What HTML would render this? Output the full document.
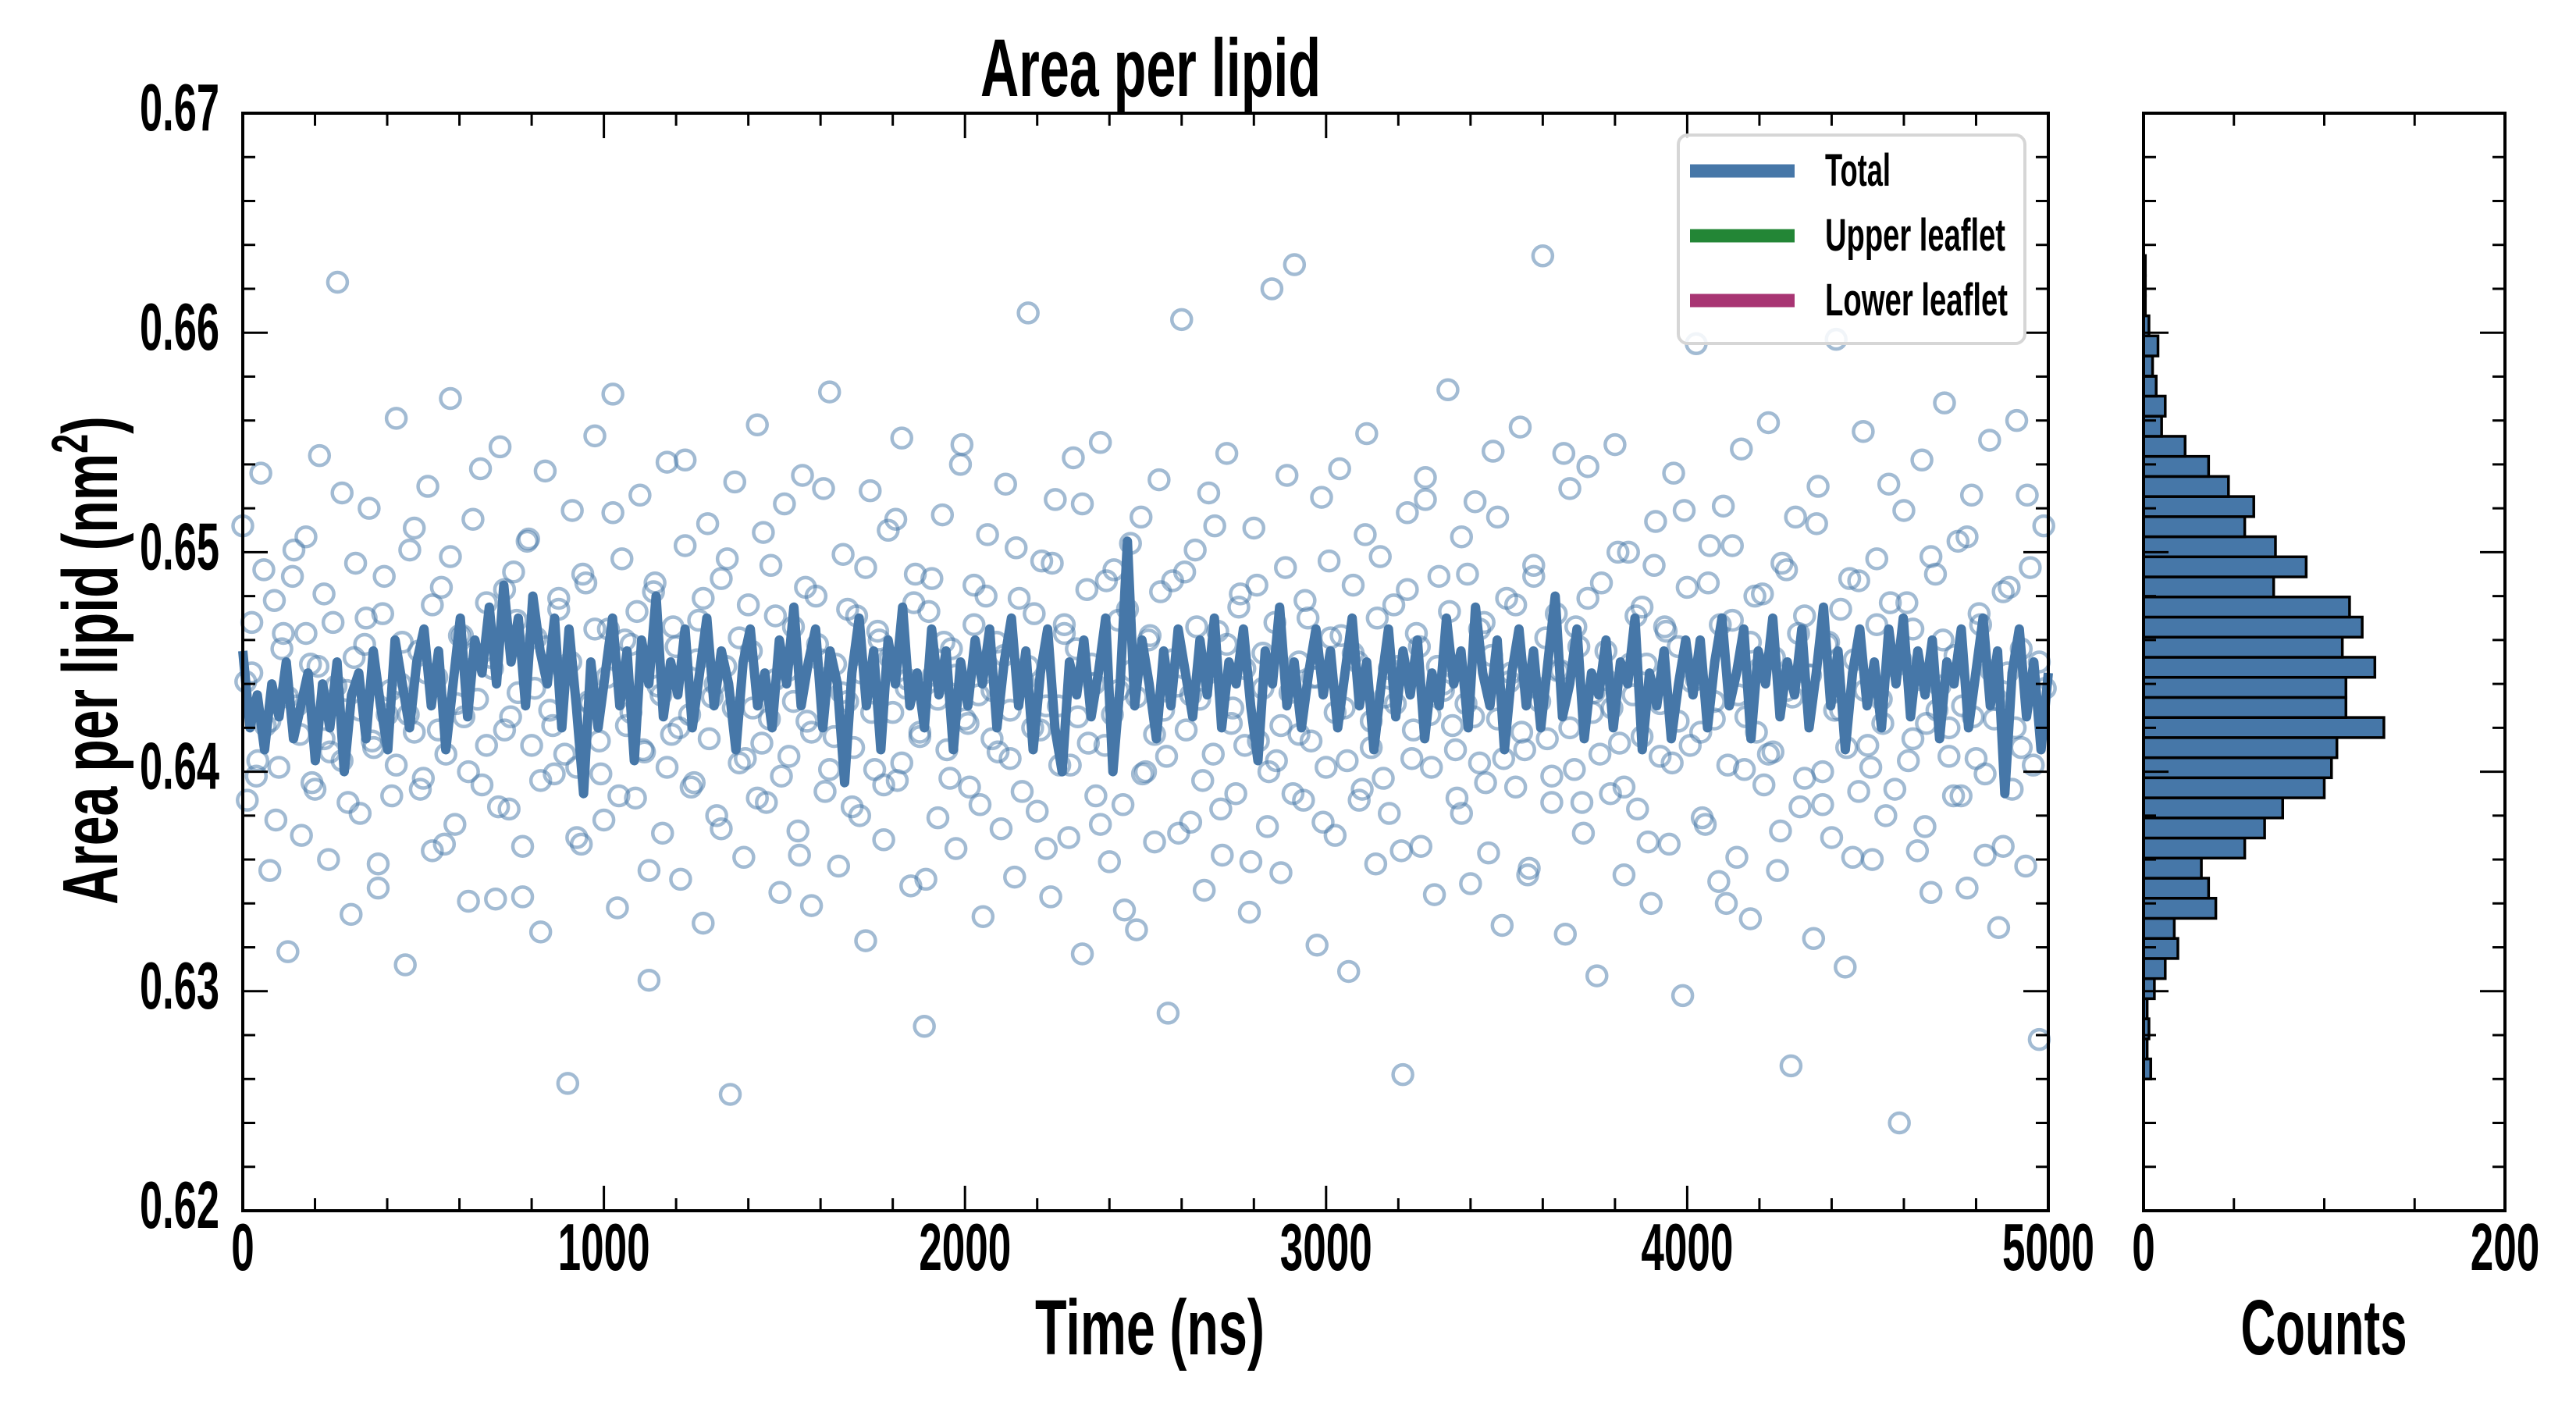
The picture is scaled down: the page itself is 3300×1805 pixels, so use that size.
<!DOCTYPE html>
<html><head><meta charset="utf-8"><style>
html,body{margin:0;padding:0;background:#fff;}
svg text{font-family:"Liberation Sans Narrow","Liberation Sans",sans-serif;font-weight:bold;fill:#000;}
</style></head><body>
<svg id="chart" xmlns="http://www.w3.org/2000/svg" width="3300" height="1800" viewBox="0 0 3300 1800">
<rect x="0" y="0" width="3300" height="1800" fill="#fff"/>
<text x="1474" y="123" font-size="105" text-anchor="middle" textLength="436" lengthAdjust="spacingAndGlyphs">Area per lipid</text>
<g id="scatter"></g>
<g id="line"></g>
<g id="hist"></g>
<g id="axes"></g>
<text x="1473" y="1735" font-size="100" text-anchor="middle" textLength="294" lengthAdjust="spacingAndGlyphs">Time (ns)</text>
<text x="2977" y="1735" font-size="100" text-anchor="middle" textLength="213" lengthAdjust="spacingAndGlyphs">Counts</text>
<g transform="translate(150,846) rotate(-90) scale(0.68,1)">
<text x="0" y="0" font-size="100" text-anchor="middle">Area per lipid (nm<tspan font-size="66" dy="-38">2</tspan><tspan dy="38">)</tspan></text>
</g>
<g>
<rect x="2150" y="173" width="444" height="267" rx="12" fill="#fff" fill-opacity="0.85" stroke="#d6d6d6" stroke-width="4"/>
<line x1="2165" y1="219" x2="2299" y2="219" stroke="#4677a8" stroke-width="17"/>
<text x="2338" y="238" font-size="58" textLength="84" lengthAdjust="spacingAndGlyphs">Total</text>
<line x1="2165" y1="302" x2="2299" y2="302" stroke="#238636" stroke-width="17"/>
<text x="2338" y="321" font-size="58" textLength="231" lengthAdjust="spacingAndGlyphs">Upper leaflet</text>
<line x1="2165" y1="385" x2="2299" y2="385" stroke="#a83573" stroke-width="17"/>
<text x="2338" y="404" font-size="58" textLength="234" lengthAdjust="spacingAndGlyphs">Lower leaflet</text>
</g>
</svg>
<script>
const xTickLabels = ["0","1000","2000","3000","4000","5000"];
const yTickLabels = ["0.62","0.63","0.64","0.65","0.66","0.67"];
const histTickLabels = ["0","200"];
const histBinStart = 0.6260;
const histBinWidth = 0.000915;
const histCounts = [4,2,3,2,6,12,19,17,40,36,32,56,67,77,100,104,107,133,112,112,128,110,121,114,72,90,73,56,61,47,36,23,10,12,7,5,8,3,1,1,1];
const totalLine = [0.6455,0.6420,0.6435,0.6410,0.6440,0.6425,0.6450,0.6415,0.6430,0.6445,0.6405,0.6440,0.6420,0.6450,0.6400,0.6435,0.6445,0.6415,0.6455,0.6430,0.6410,0.6460,0.6440,0.6420,0.6450,
0.6465,0.6430,0.6455,0.6410,0.6440,0.6470,0.6425,0.6460,0.6445,0.6475,0.6440,0.6485,0.6450,0.6470,0.6430,0.6480,0.6455,0.6440,0.6470,0.6420,0.6465,0.6430,0.6390,0.6450,0.6420,
0.6445,0.6470,0.6430,0.6455,0.6405,0.6460,0.6440,0.6480,0.6425,0.6450,0.6435,0.6465,0.6420,0.6445,0.6470,0.6430,0.6455,0.6440,0.6410,0.6450,0.6465,0.6430,0.6445,0.6420,0.6460,
0.6440,0.6475,0.6430,0.6450,0.6465,0.6420,0.6455,0.6440,0.6395,0.6445,0.6470,0.6430,0.6455,0.6410,0.6460,0.6440,0.6475,0.6430,0.6445,0.6420,0.6465,0.6435,0.6455,0.6410,0.6450,
0.6430,0.6460,0.6440,0.6465,0.6420,0.6450,0.6470,0.6430,0.6455,0.6410,0.6445,0.6465,0.6420,0.6400,0.6450,0.6435,0.6460,0.6425,0.6445,0.6470,0.6400,0.6440,0.6505,0.6430,0.6460,
0.6440,0.6415,0.6455,0.6430,0.6465,0.6445,0.6425,0.6460,0.6435,0.6470,0.6420,0.6450,0.6440,0.6465,0.6430,0.6405,0.6455,0.6440,0.6475,0.6430,0.6450,0.6420,0.6445,0.6465,0.6435,
0.6455,0.6420,0.6445,0.6470,0.6430,0.6450,0.6410,0.6440,0.6465,0.6425,0.6455,0.6435,0.6460,0.6415,0.6445,0.6430,0.6470,0.6440,0.6455,0.6420,0.6475,0.6445,0.6430,0.6460,0.6410,
0.6445,0.6465,0.6430,0.6455,0.6420,0.6450,0.6480,0.6425,0.6440,0.6465,0.6415,0.6445,0.6435,0.6460,0.6420,0.6450,0.6440,0.6470,0.6410,0.6445,0.6430,0.6455,0.6415,0.6440,0.6460,
0.6435,0.6460,0.6420,0.6450,0.6470,0.6430,0.6445,0.6465,0.6415,0.6455,0.6440,0.6470,0.6425,0.6450,0.6435,0.6465,0.6420,0.6445,0.6475,0.6430,0.6455,0.6410,0.6445,0.6465,0.6430,
0.6450,0.6420,0.6465,0.6440,0.6470,0.6425,0.6455,0.6435,0.6460,0.6415,0.6450,0.6440,0.6465,0.6420,0.6445,0.6470,0.6430,0.6455,0.6390,0.6445,0.6465,0.6425,0.6450,0.6410,0.6445];
const scatterValues = [0.6512,0.6387,0.6445,0.6398,0.6536,0.6421,0.6355,0.6478,0.6402,0.6463,0.6318,0.6489,0.6430,0.6371,0.6507,0.6449,0.6392,0.6544,0.6415,0.6360,
0.6468,0.6623,0.6405,0.6437,0.6335,0.6495,0.6381,0.6458,0.6520,0.6411,0.6347,0.6472,0.6426,0.6389,0.6561,0.6440,0.6312,0.6501,0.6418,0.6455,
0.6397,0.6530,0.6364,0.6443,0.6484,0.6408,0.6570,0.6376,0.6462,0.6425,0.6341,0.6515,0.6433,0.6394,0.6477,0.6452,0.6342,0.6548,0.6419,0.6383,
0.6491,0.6436,0.6366,0.6505,0.6412,0.6461,0.6327,0.6537,0.6428,0.6399,0.6474,0.6447,0.6258,0.6519,0.6402,0.6367,0.6486,0.6431,0.6553,0.6414,
0.6378,0.6465,0.6572,0.6338,0.6497,0.6421,0.6458,0.6388,0.6526,0.6409,0.6305,0.6482,0.6439,0.6372,0.6541,0.6417,0.6457,0.6351,0.6503,0.6426,
0.6395,0.6469,0.6331,0.6513,0.6434,0.6380,0.6488,0.6448,0.6253,0.6532,0.6404,0.6361,0.6476,0.6429,0.6558,0.6413,0.6386,0.6494,0.6442,0.6345,
0.6522,0.6407,0.6466,0.6373,0.6535,0.6423,0.6339,0.6480,0.6451,0.6391,0.6573,0.6416,0.6357,0.6499,0.6432,0.6384,0.6471,0.6445,0.6323,0.6528,
0.6401,0.6460,0.6369,0.6510,0.6427,0.6396,0.6552,0.6438,0.6348,0.6490,0.6418,0.6284,0.6473,0.6444,0.6379,0.6517,0.6410,0.6456,0.6365,0.6540,
0.6424,0.6393,0.6485,0.6435,0.6334,0.6508,0.6415,0.6459,0.6374,0.6531,0.6406,0.6352,0.6479,0.6441,0.6609,0.6420,0.6382,0.6496,0.6430,0.6343,
0.6524,0.6403,0.6467,0.6370,0.6543,0.6425,0.6317,0.6483,0.6449,0.6389,0.6550,0.6412,0.6359,0.6492,0.6437,0.6385,0.6474,0.6446,0.6328,0.6516,
0.6400,0.6462,0.6368,0.6533,0.6428,0.6290,0.6487,0.6439,0.6606,0.6419,0.6377,0.6501,0.6433,0.6346,0.6527,0.6408,0.6464,0.6362,0.6545,0.6422,
0.6390,0.6481,0.6447,0.6336,0.6511,0.6414,0.6454,0.6375,0.6620,0.6405,0.6354,0.6493,0.6436,0.6631,0.6417,0.6387,0.6470,0.6443,0.6321,0.6525,
0.6402,0.6461,0.6371,0.6538,0.6429,0.6309,0.6485,0.6450,0.6392,0.6554,0.6411,0.6358,0.6498,0.6434,0.6381,0.6476,0.6448,0.6262,0.6518,0.6406,
0.6463,0.6366,0.6534,0.6426,0.6344,0.6489,0.6440,0.6574,0.6421,0.6388,0.6507,0.6431,0.6349,0.6523,0.6404,0.6468,0.6363,0.6546,0.6424,0.6330,
0.6479,0.6445,0.6393,0.6557,0.6410,0.6356,0.6494,0.6438,0.6635,0.6415,0.6386,0.6472,0.6446,0.6326,0.6529,0.6401,0.6457,0.6372,0.6539,0.6427,
0.6307,0.6486,0.6442,0.6390,0.6549,0.6413,0.6353,0.6500,0.6435,0.6383,0.6475,0.6449,0.6340,0.6514,0.6407,0.6466,0.6367,0.6536,0.6423,0.6298,
0.6484,0.6441,0.6595,0.6418,0.6376,0.6503,0.6432,0.6350,0.6521,0.6403,0.6469,0.6361,0.6547,0.6425,0.6333,0.6480,0.6447,0.6394,0.6559,0.6409,
0.6355,0.6495,0.6437,0.6266,0.6516,0.6384,0.6471,0.6444,0.6324,0.6530,0.6400,0.6458,0.6370,0.6597,0.6428,0.6311,0.6488,0.6451,0.6391,0.6555,
0.6412,0.6360,0.6497,0.6433,0.6380,0.6477,0.6448,0.6240,0.6519,0.6405,0.6465,0.6364,0.6542,0.6422,0.6345,0.6490,0.6439,0.6568,0.6420,0.6389,
0.6505,0.6430,0.6347,0.6526,0.6406,0.6467,0.6362,0.6551,0.6424,0.6329,0.6482,0.6445,0.6392,0.6560,0.6411,0.6357,0.6493,0.6436,0.6278,0.6512];
const scatterValuesB = [0.6441,0.6468,0.6405,0.6492,0.6423,0.6378,0.6456,0.6434,0.6501,0.6417,0.6463,0.6395,0.6448,0.6481,0.6409,0.6439,0.6527,0.6386,0.6452,0.6428,
0.6470,0.6414,0.6358,0.6489,0.6437,0.6403,0.6459,0.6426,0.6511,0.6392,0.6445,0.6476,0.6419,0.6367,0.6498,0.6431,0.6462,0.6400,0.6454,0.6538,
0.6412,0.6447,0.6384,0.6483,0.6425,0.6469,0.6343,0.6506,0.6438,0.6396,0.6457,0.6421,0.6479,0.6408,0.6450,0.6370,0.6490,0.6432,0.6465,0.6399,
0.6443,0.6518,0.6389,0.6460,0.6427,0.6473,0.6410,0.6355,0.6486,0.6435,0.6402,0.6466,0.6420,0.6542,0.6393,0.6451,0.6479,0.6415,0.6440,0.6374,
0.6497,0.6429,0.6461,0.6406,0.6455,0.6388,0.6509,0.6424,0.6471,0.6398,0.6446,0.6432,0.6362,0.6484,0.6418,0.6458,0.6529,0.6401,0.6449,0.6436,
0.6474,0.6411,0.6380,0.6493,0.6427,0.6464,0.6394,0.6452,0.6515,0.6404,0.6442,0.6477,0.6416,0.6351,0.6488,0.6433,0.6459,0.6397,0.6444,0.6549,
0.6422,0.6467,0.6385,0.6480,0.6437,0.6409,0.6453,0.6428,0.6502,0.6391,0.6448,0.6472,0.6419,0.6365,0.6495,0.6430,0.6463,0.6403,0.6456,0.6522,
0.6413,0.6440,0.6376,0.6487,0.6426,0.6469,0.6337,0.6504,0.6434,0.6399,0.6460,0.6417,0.6482,0.6407,0.6451,0.6372,0.6491,0.6435,0.6466,0.6396,
0.6445,0.6512,0.6383,0.6458,0.6429,0.6475,0.6412,0.6359,0.6485,0.6438,0.6400,0.6468,0.6421,0.6535,0.6390,0.6450,0.6478,0.6414,0.6443,0.6377,
0.6496,0.6427,0.6462,0.6405,0.6454,0.6387,0.6508,0.6423,0.6470,0.6397,0.6447,0.6431,0.6364,0.6483,0.6419,0.6457,0.6524,0.6402,0.6448,0.6437,
0.6473,0.6410,0.6381,0.6490,0.6425,0.6465,0.6395,0.6453,0.6516,0.6406,0.6441,0.6476,0.6418,0.6353,0.6489,0.6432,0.6461,0.6398,0.6446,0.6545,
0.6420,0.6466,0.6386,0.6479,0.6436,0.6408,0.6455,0.6429,0.6500,0.6393,0.6449,0.6471,0.6416,0.6368,0.6494,0.6431,0.6464,0.6404,0.6457,0.6519,
0.6412,0.6442,0.6379,0.6486,0.6424,0.6467,0.6340,0.6503,0.6435,0.6401,0.6459,0.6418,0.6481,0.6408,0.6452,0.6373,0.6492,0.6434,0.6463,0.6397,
0.6444,0.6513,0.6385,0.6459,0.6428,0.6474,0.6411,0.6361,0.6487,0.6437,0.6402,0.6467,0.6422,0.6531,0.6392,0.6451,0.6477,0.6415,0.6442,0.6375,
0.6498,0.6428,0.6460,0.6407,0.6453,0.6389,0.6507,0.6425,0.6472,0.6399,0.6446,0.6433,0.6366,0.6484,0.6420,0.6456,0.6526,0.6403,0.6450,0.6438];

const NS = "http://www.w3.org/2000/svg";
const P = {l:311, r:2624, t:145, b:1551};
const H = {l:2746, r:3209};
const xMin=0, xMax=5000, yMin=0.62, yMax=0.67, cMax=200;
function xs(v){return P.l + (v-xMin)/(xMax-xMin)*(P.r-P.l);}
function ys(v){return P.b - (v-yMin)/(yMax-yMin)*(P.b-P.t);}
function hs(c){return H.l + c/cMax*(H.r-H.l);}
function mk(tag, attrs, parent){const e=document.createElementNS(NS,tag);for(const k in attrs)e.setAttribute(k,attrs[k]);parent.appendChild(e);return e;}

const sc = document.getElementById('scatter');
function drawScatter(arr, offset){
  arr.forEach((v,i)=>{
    const t = xMin + (i+offset)*(xMax-xMin)/(arr.length);
    const c = mk('circle',{cx:xs(Math.min(t,xMax)),cy:ys(v),r:12.5,fill:'none',stroke:'#4677a8','stroke-opacity':0.5,'stroke-width':4.5},sc);
    
    
  });
}
drawScatter(scatterValues, 0);
drawScatter(scatterValuesB, 0.5);

const lg = document.getElementById('line');
const pts = totalLine.map((v,i)=>xs(xMin+i*(xMax-xMin)/(totalLine.length-1)).toFixed(1)+','+ys(v).toFixed(1)).join(' ');
const pl = mk('polyline',{points:pts,fill:'none',stroke:'#4677a8','stroke-width':12,'stroke-linejoin':'round'},lg);



const hg = document.getElementById('hist');
histCounts.forEach((c,i)=>{
  const lo = histBinStart + i*histBinWidth, hi = lo + histBinWidth;
  const r = mk('rect',{x:H.l,y:ys(hi),width:hs(c)-H.l,height:ys(lo)-ys(hi),fill:'#4677a8',stroke:'#000','stroke-width':3.5},hg);
  
  
});

const ax = document.getElementById('axes');
function tick(x1,y1,x2,y2){const l=mk('line',{x1:x1,y1:y1,x2:x2,y2:y2,stroke:'#000','stroke-width':3},ax);
  
  }
for(let v=0; v<=5000; v+=200){const x=xs(v);const L=(v%1000===0)?32:16;tick(x,P.b,x,P.b-L);tick(x,P.t,x,P.t+L);}
for(let k=0;k<=25;k++){const v=yMin+k*0.002;const y=ys(v);const L=(k%5===0)?32:16;tick(P.l,y,P.l+L,y);tick(P.r,y,P.r-L,y);tick(H.l,y,H.l+L,y);tick(H.r,y,H.r-L,y);}
for(let c=0;c<=200;c+=50){const x=hs(c);const L=(c%200===0)?32:16;tick(x,P.b,x,P.b-L);tick(x,P.t,x,P.t+L);}
const fr1 = mk('rect',{x:P.l,y:P.t,width:P.r-P.l,height:P.b-P.t,fill:'none',stroke:'#000','stroke-width':4},ax);


const fr2 = mk('rect',{x:H.l,y:P.t,width:H.r-H.l,height:P.b-P.t,fill:'none',stroke:'#000','stroke-width':4},ax);



xTickLabels.forEach((s,i)=>{
  const t = mk('text',{x:xs(xMin+i*1000),y:1627,'font-size':85,'text-anchor':'middle',textLength:s.length*29.5,lengthAdjust:'spacingAndGlyphs'},ax);
  t.textContent=s;
  
  
});
yTickLabels.forEach((s,i)=>{
  const t = mk('text',{x:281,y:ys(yMin+i*0.01)+22,'font-size':85,'text-anchor':'end',textLength:102,lengthAdjust:'spacingAndGlyphs'},ax);
  t.textContent=s;
  
  
});
histTickLabels.forEach((s,i)=>{
  const t = mk('text',{x:hs(i*200),y:1627,'font-size':85,'text-anchor':'middle',textLength:s.length*29.5,lengthAdjust:'spacingAndGlyphs'},ax);
  t.textContent=s;
  
  
});
</script>
</body></html>
